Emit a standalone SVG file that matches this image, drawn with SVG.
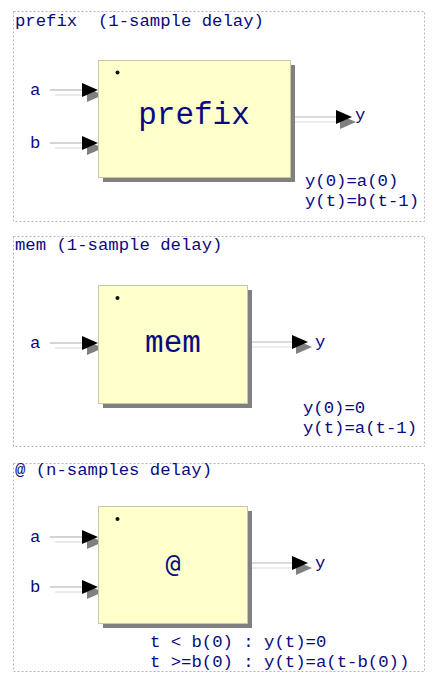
<svg xmlns="http://www.w3.org/2000/svg" width="437" height="684" viewBox="0 0 437 684">
<style>
.panel{fill:none;stroke:#b4b4b4;stroke-width:1;stroke-dasharray:2,2}
.t{font-family:"Liberation Mono","Courier New",monospace;fill:#0a0a80;font-size:17.3px}
.big{font-family:"Liberation Mono","Courier New",monospace;fill:#0a0a80;font-size:31px;text-anchor:middle}
.at{font-family:"DejaVu Sans Mono",monospace;fill:#0a0a80;font-size:25px;text-anchor:middle}
.box{fill:#ffffcc;stroke:#c8c8a8;stroke-width:1}
.shadow{fill:#808080}
.ln{stroke:#b8b8b8;stroke-width:1.2;fill:none}
.lns{stroke:#dcdcdc;stroke-width:1.2;fill:none}
.dot{fill:#111}
</style>
<defs>
<path id="head" d="M-16,-7 L0,0 L-16,7 Z" fill="#000"/>
<path id="heads" d="M-16,-7 L0,0 L-16,7 Z" fill="#808080"/>
</defs>
<rect width="437" height="684" fill="#fff"/>

<g id="panels">
<rect class="panel" x="13.5" y="11.5" width="411" height="210"/>
<text class="t" x="15" y="26" xml:space="preserve">prefix  (1-sample delay)</text>
<rect class="panel" x="13.5" y="236.5" width="411" height="210"/>
<text class="t" x="15" y="250">mem (1-sample delay)</text>
<rect class="panel" x="13.5" y="463.5" width="411" height="208"/>
<text class="t" x="15" y="475">@ (n-samples delay)</text>
</g>

<g id="connectors">
<!-- prefix a -->
<line class="lns" x1="55" y1="95" x2="87" y2="95"/>
<use href="#heads" transform="translate(103,95)"/>
<line class="ln" x1="50" y1="90" x2="82" y2="90"/>
<use href="#head" transform="translate(98,90)"/>
<!-- prefix b -->
<line class="lns" x1="55" y1="148" x2="87" y2="148"/>
<use href="#heads" transform="translate(103,148)"/>
<line class="ln" x1="50" y1="143" x2="82" y2="143"/>
<use href="#head" transform="translate(98,143)"/>
<!-- prefix y -->
<line class="lns" x1="295" y1="122" x2="340" y2="122"/>
<use href="#heads" transform="translate(356,122)"/>
<line class="ln" x1="290" y1="117" x2="336" y2="117"/>
<use href="#head" transform="translate(352,117)"/>
<!-- mem a -->
<line class="lns" x1="55" y1="348" x2="87" y2="348"/>
<use href="#heads" transform="translate(103,348)"/>
<line class="ln" x1="50" y1="343" x2="82" y2="343"/>
<use href="#head" transform="translate(98,343)"/>
<!-- mem y -->
<line class="lns" x1="252" y1="347" x2="296" y2="347"/>
<use href="#heads" transform="translate(312,347)"/>
<line class="ln" x1="247" y1="342" x2="292" y2="342"/>
<use href="#head" transform="translate(308,342)"/>
<!-- @ a -->
<line class="lns" x1="55" y1="542" x2="87" y2="542"/>
<use href="#heads" transform="translate(103,542)"/>
<line class="ln" x1="50" y1="537" x2="82" y2="537"/>
<use href="#head" transform="translate(98,537)"/>
<!-- @ b -->
<line class="lns" x1="55" y1="592" x2="87" y2="592"/>
<use href="#heads" transform="translate(103,592)"/>
<line class="ln" x1="50" y1="587" x2="82" y2="587"/>
<use href="#head" transform="translate(98,587)"/>
<!-- @ y -->
<line class="lns" x1="252" y1="568" x2="296" y2="568"/>
<use href="#heads" transform="translate(312,568)"/>
<line class="ln" x1="247" y1="563" x2="292" y2="563"/>
<use href="#head" transform="translate(308,563)"/>
</g>

<g id="labels">
<text class="t" x="30" y="95">a</text>
<text class="t" x="30" y="148">b</text>
<text class="t" x="355" y="120">y</text>
<text class="t" x="305" y="186">y(0)=a(0)</text>
<text class="t" x="305" y="206">y(t)=b(t-1)</text>
<text class="t" x="30" y="348">a</text>
<text class="t" x="315" y="347">y</text>
<text class="t" x="303" y="413">y(0)=0</text>
<text class="t" x="303" y="433">y(t)=a(t-1)</text>
<text class="t" x="30" y="542">a</text>
<text class="t" x="30" y="592">b</text>
<text class="t" x="315" y="568">y</text>
<text class="t" x="150" y="647">t &lt; b(0) : y(t)=0</text>
<text class="t" x="150" y="667">t &gt;=b(0) : y(t)=a(t-b(0))</text>
</g>

<g id="node-prefix">
<rect class="shadow" x="103" y="65" width="192" height="117"/>
<rect class="box" x="98.5" y="60.5" width="192" height="117"/>
<circle class="dot" cx="117.5" cy="72.5" r="2"/>
<text class="big" x="194" y="124">prefix</text>
</g>

<g id="node-mem">
<rect class="shadow" x="103" y="290" width="149" height="118"/>
<rect class="box" x="98.5" y="285.5" width="149" height="118"/>
<circle class="dot" cx="117.5" cy="298" r="2"/>
<text class="big" x="173" y="352">mem</text>
</g>

<g id="node-at">
<rect class="shadow" x="103" y="511" width="149" height="117"/>
<rect class="box" x="98.5" y="506.5" width="149" height="117"/>
<circle class="dot" cx="117.5" cy="519" r="2"/>
<text class="at" x="173" y="572">@</text>
</g>
</svg>
